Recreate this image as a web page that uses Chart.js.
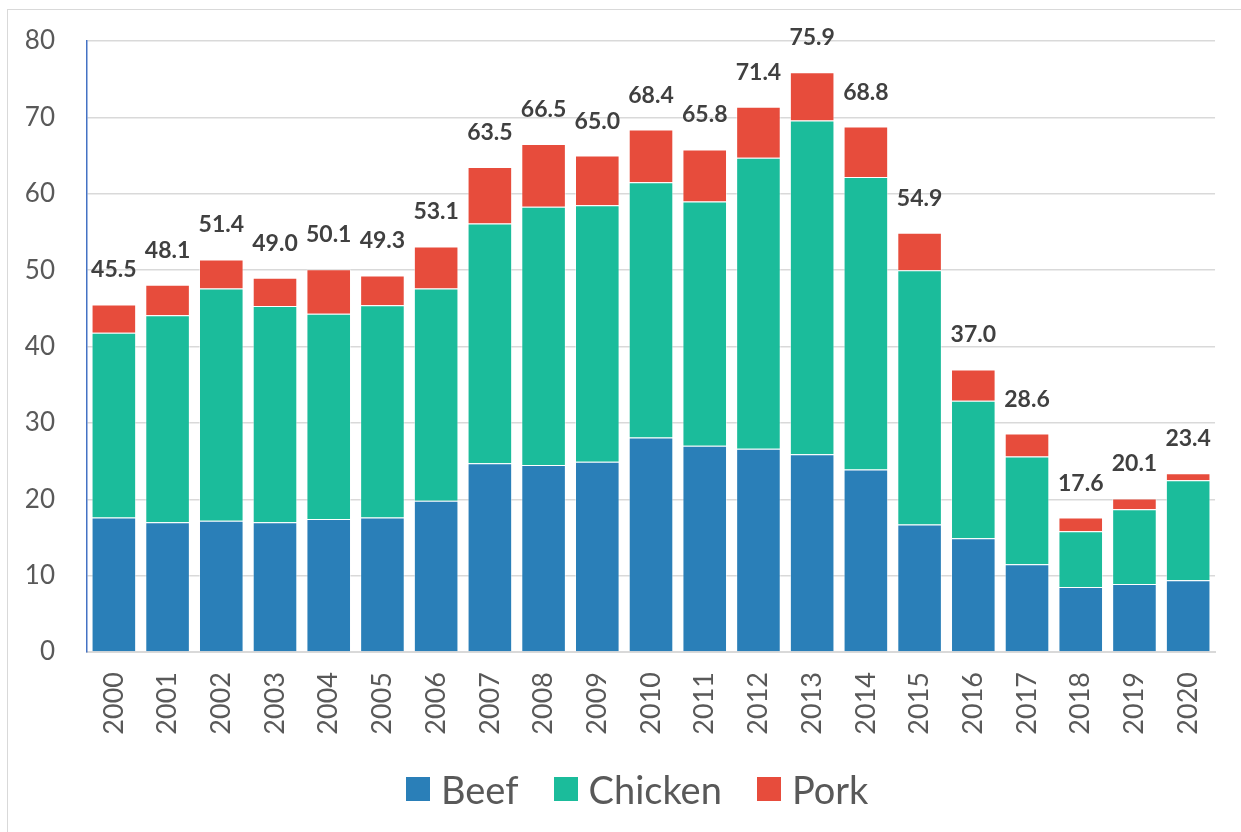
<!DOCTYPE html>
<html>
<head>
<meta charset="utf-8">
<script src="https://cdn.jsdelivr.net/npm/chart.js@4/dist/chart.umd.min.js"></script>
<style>
  html, body { margin: 0; padding: 0; background: #fff; }
  body { width: 1241px; height: 832px; position: relative; overflow: hidden; font-family: Lato, "Open Sans", sans-serif; }
  .frame { position: absolute; left: 7px; top: 9px; width: 1260px; height: 850px; border: 1px solid #d9d9d9; }
  #wrap { position: absolute; left: 0; top: 0; width: 1241px; height: 832px; }
  #legend { position: absolute; left: 406px; top: 765px; height: 48px; display: flex; align-items: center; white-space: nowrap; }
  .item { display: flex; align-items: center; margin-right: 35px; font-size: 38px; color: #595959; line-height: 48px; }
  .box { width: 24px; height: 24px; margin-right: 11px; }
</style>
</head>
<body>
<div class="frame"></div>
<div id="wrap"><canvas id="meatChart"></canvas></div>
<div id="legend"></div>
<script>
// Data
const years = ['2000', '2001', '2002', '2003', '2004', '2005', '2006', '2007', '2008', '2009', '2010',
  '2011', '2012', '2013', '2014', '2015', '2016', '2017', '2018', '2019', '2020'];
const beef = [17.6, 17.0, 17.2, 17.0, 17.4, 17.6, 19.8, 24.7, 24.5, 24.9, 28.1,
  27.0, 26.6, 25.9, 23.9, 16.7, 14.9, 11.5, 8.5, 8.9, 9.4];
const chicken = [24.2, 27.1, 30.4, 28.3, 26.9, 27.8, 27.8, 31.4, 33.8, 33.6, 33.4,
  32.0, 38.1, 43.7, 38.3, 33.3, 18.0, 14.1, 7.3, 9.8, 13.1];
const pork = [3.7, 4.0, 3.8, 3.7, 5.8, 3.9, 5.5, 7.4, 8.2, 6.5, 6.9,
  6.8, 6.7, 6.3, 6.6, 4.9, 4.1, 3.0, 1.8, 1.4, 0.9];
const totals = ['45.5', '48.1', '51.4', '49.0', '50.1', '49.3', '53.1', '63.5', '66.5', '65.0', '68.4',
  '65.8', '71.4', '75.9', '68.8', '54.9', '37.0', '28.6', '17.6', '20.1', '23.4'];
const yTicks = [0, 10, 20, 30, 40, 50, 60, 70, 80];

const FONT = 'Lato, "Open Sans", sans-serif';

// Total label above each stacked bar
const totalLabels = {
  id: 'totalLabels',
  afterDatasetsDraw(chart) {
    const ctx = chart.ctx;
    const top = chart.getDatasetMeta(chart.data.datasets.length - 1);
    ctx.save();
    ctx.font = 'bold 23px ' + FONT;
    ctx.fillStyle = '#404040';
    ctx.textAlign = 'center';
    ctx.textBaseline = 'alphabetic';
    top.data.forEach((bar, i) => {
      ctx.fillText(totals[i], bar.x, bar.y - 27);
    });
    ctx.restore();
  }
};

const ctx = document.getElementById('meatChart').getContext('2d');
const chart = new Chart(ctx, {
  type: 'bar',
  data: {
    labels: years,
    datasets: [
      { label: 'Beef', data: beef, backgroundColor: '#2a7fb8' },
      { label: 'Chicken', data: chicken, backgroundColor: '#1bbc9b' },
      { label: 'Pork', data: pork, backgroundColor: '#e74c3c' }
    ].map(ds => Object.assign(ds, {
      borderColor: 'rgba(255,255,255,0.45)',
      borderWidth: 1,
      categoryPercentage: 1,
      barPercentage: 0.83
    }))
  },
  options: {
    responsive: true,
    maintainAspectRatio: false,
    animation: false,
    layout: { padding: { left: 0, right: 18, top: 41, bottom: 80 } },
    plugins: {
      tooltip: { enabled: false },
      legend: { display: false }
    },
    scales: {
      x: {
        stacked: true,
        grid: { display: false, drawTicks: false },
        border: { color: '#d9d9d9', width: 2 },
        ticks: {
          font: { family: FONT, size: 27 },
          color: '#595959',
          minRotation: 90,
          maxRotation: 90,
          padding: 20
        },
        afterFit(scale) { scale.height = 100; }
      },
      y: {
        stacked: true,
        min: 0,
        max: 80,
        afterBuildTicks(scale) { scale.ticks = yTicks.map(v => ({ value: v })); },
        grid: { color: '#d9d9d9', lineWidth: 1.5, drawTicks: false },
        border: { color: '#4472c4', width: 1.5 },
        ticks: {
          font: { family: FONT, size: 26 },
          color: '#595959',
          padding: 32
        },
        afterFit(scale) {
          scale.width = 87;
          // keep the big tick padding from pushing the plot area down
          scale.paddingTop = 16;
          scale.paddingBottom = 16;
        }
      }
    }
  },
  plugins: [totalLabels]
});

// Legend built from the chart's own datasets
const legend = document.getElementById('legend');
chart.data.datasets.forEach(ds => {
  const item = document.createElement('div');
  item.className = 'item';
  item.innerHTML = `<span class="box" style="background:${ds.backgroundColor}"></span>${ds.label}`;
  legend.appendChild(item);
});
</script>
</body>
</html>
